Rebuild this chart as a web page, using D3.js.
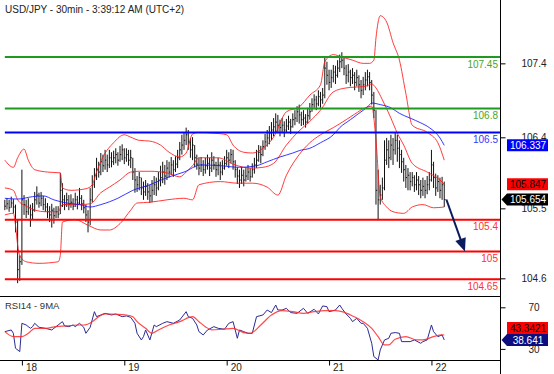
<!DOCTYPE html>
<html><head><meta charset="utf-8">
<script src="https://cdn.jsdelivr.net/npm/d3@7"></script>
<style>body{margin:0;background:#fff}svg{display:block}text{font-family:"Liberation Sans",Arial,sans-serif}</style>
</head><body><svg id="c" width="554" height="374"></svg>
<script>
// ---------- DATA ----------
const title = "USD/JPY - 30min - 3:39:12 AM (UTC+2)";
const firstOpen = 105.58;
const closes = [
105.57,105.60,105.55,105.61,105.56,105.37,104.77,104.87,105.65,105.59,
105.50,105.55,105.46,105.52,105.65,105.71,105.61,105.67,105.59,105.56,
105.50,105.46,105.52,105.45,105.50,105.47,105.77,105.65,105.59,105.65,
105.59,105.62,105.57,105.65,105.61,105.67,105.60,105.55,105.46,105.37,
105.65,105.84,105.96,106.03,106.00,106.13,106.08,106.15,106.09,106.18,
106.13,106.18,106.22,106.15,106.22,106.28,106.18,106.22,106.15,106.18,
106.00,105.90,105.84,105.93,105.80,105.75,105.82,105.75,105.70,105.77,
105.84,105.80,105.90,105.93,106.00,105.95,106.05,106.00,106.09,106.03,
106.10,106.18,106.28,106.34,106.40,106.47,106.38,106.28,106.34,106.18,
106.10,106.05,106.09,106.03,106.08,106.11,106.05,106.15,106.09,106.03,
106.09,106.00,106.05,106.11,106.18,106.15,106.22,106.13,106.03,105.95,
105.90,105.96,105.90,105.95,106.00,105.94,106.03,106.09,106.15,106.25,
106.22,106.32,106.38,106.43,106.49,106.53,106.57,106.63,106.59,106.56,
106.59,106.53,106.58,106.63,106.57,106.66,106.68,106.76,106.72,106.66,
106.68,106.63,106.71,106.76,106.85,106.91,106.86,106.95,106.91,106.97,
107.31,107.22,107.13,107.19,107.26,107.22,107.31,107.39,107.41,107.31,
107.22,107.26,107.19,107.22,107.13,107.19,107.10,107.03,107.10,107.16,
107.20,107.13,106.97,106.78,105.77,105.65,105.71,105.80,106.15,106.28,
106.18,106.34,106.28,106.40,106.30,106.22,106.13,106.03,105.93,105.96,
105.88,105.93,105.84,105.90,105.84,105.77,105.82,105.77,105.84,105.90,
106.09,105.93,105.80,105.88,105.77,105.84,105.654];
const highs = [
105.65,105.67,105.65,105.69,105.66,105.59,105.40,104.95,106.03,105.71,
105.65,105.67,105.59,105.61,105.75,105.82,105.74,105.75,105.70,105.67,
105.61,105.57,105.60,105.55,105.57,105.57,105.99,105.86,105.71,105.74,
105.71,105.72,105.67,105.74,105.70,105.80,105.71,105.65,105.59,105.52,
105.80,105.96,106.05,106.18,106.13,106.24,106.22,106.28,106.22,106.28,
106.25,106.27,106.30,106.25,106.33,106.35,106.30,106.30,106.28,106.28,
106.15,106.05,105.95,106.00,105.93,105.88,105.90,105.86,105.84,105.90,
105.95,105.93,106.00,106.08,106.13,106.09,106.15,106.13,106.19,106.15,
106.20,106.28,106.38,106.47,106.50,106.56,106.53,106.43,106.44,106.34,
106.22,106.18,106.19,106.15,106.18,106.22,106.18,106.25,106.20,106.13,
106.18,106.13,106.15,106.20,106.28,106.25,106.29,106.28,106.15,106.06,
106.03,106.06,106.03,106.05,106.09,106.05,106.11,106.18,106.28,106.34,
106.33,106.40,106.48,106.53,106.58,106.63,106.68,106.74,106.72,106.66,
106.68,106.64,106.67,106.71,106.67,106.74,106.78,106.83,106.85,106.76,
106.78,106.73,106.81,106.87,106.93,106.98,106.96,107.03,107.01,107.06,
107.45,107.39,107.29,107.29,107.35,107.34,107.41,107.48,107.51,107.44,
107.35,107.36,107.29,107.31,107.26,107.29,107.22,107.16,107.20,107.26,
107.29,107.26,107.16,107.01,106.78,106.03,105.84,105.93,106.40,106.43,
106.40,106.47,106.43,106.50,106.47,106.40,106.28,106.18,106.09,106.05,
106.00,106.00,105.96,106.00,105.95,105.90,105.93,105.90,105.95,106.00,
106.28,106.13,105.98,105.96,105.93,105.94,105.88];
const lows = [
105.52,105.53,105.50,105.55,105.48,105.24,104.60,104.63,104.83,105.46,
105.42,105.46,105.31,105.40,105.50,105.59,105.55,105.57,105.52,105.50,
105.42,105.37,105.30,105.35,105.42,105.42,105.47,105.56,105.52,105.56,
105.52,105.55,105.52,105.56,105.53,105.59,105.52,105.48,105.37,105.24,
105.33,105.62,105.80,105.90,105.93,105.96,106.00,106.03,106.00,106.05,
106.06,106.09,106.11,106.08,106.13,106.15,106.10,106.13,106.08,106.05,
105.90,105.74,105.75,105.77,105.71,105.65,105.70,105.65,105.61,105.62,
105.71,105.70,105.77,105.82,105.86,105.84,105.90,105.93,105.96,105.94,
106.00,106.05,106.15,106.22,106.28,106.34,106.28,106.18,106.15,106.06,
106.03,105.96,106.00,105.95,105.98,106.03,105.95,106.00,106.03,105.94,
105.96,105.90,105.96,106.03,106.08,106.05,106.11,106.03,105.93,105.85,
105.80,105.85,105.82,105.88,105.90,105.88,105.93,105.98,106.05,106.13,
106.11,106.20,106.28,106.32,106.35,106.40,106.45,106.50,106.49,106.45,
106.49,106.44,106.50,106.53,106.48,106.56,106.59,106.63,106.61,106.58,
106.59,106.56,106.61,106.66,106.76,106.81,106.78,106.83,106.81,106.86,
106.93,107.10,107.03,107.06,107.13,107.11,107.19,107.26,107.31,107.22,
107.11,107.13,107.08,107.11,107.03,107.08,107.01,106.93,106.97,107.03,
107.08,107.03,106.85,106.68,105.59,105.40,105.59,105.65,105.77,106.09,
106.05,106.15,106.09,106.22,106.13,106.05,105.99,105.88,105.80,105.77,
105.77,105.82,105.75,105.77,105.71,105.67,105.70,105.67,105.72,105.77,
105.88,105.80,105.70,105.75,105.67,105.65,105.56];

// Bollinger bands (20) and 50-period MA, sampled [barIndex, price]
const bbUpper = [[0,106.15],[4,106.06],[6,106.18],[9,106.29],[11,106.15],[14,106.03],[20,106.00],[26,105.99],[27,105.80],[31,105.77],[38,105.79],[41,105.84],[43,106.00],[46,106.19],[51,106.37],[56,106.47],[59,106.44],[63,106.40],[68,106.39],[73,106.34],[77,106.25],[82,106.19],[85,106.24],[88,106.48],[91,106.50],[98,106.49],[104,106.47],[107,106.34],[112,106.25],[116,106.24],[121,106.30],[126,106.44],[132,106.76],[138,106.82],[143,106.97],[148,107.10],[150,107.39],[154,107.48],[158,107.45],[163,107.41],[168,107.37],[171,107.37],[173,107.41],[174,107.69],[175,107.89],[176,107.97],[179,107.89],[182,107.63],[185,107.41],[188,106.99],[191,106.59],[198,106.50],[203,106.37],[206,106.15]];
const bbMiddle = [[0,105.80],[4,105.77],[6,105.65],[10,105.57],[19,105.50],[25,105.50],[27,105.59],[35,105.59],[40,105.60],[45,105.74],[49,105.81],[54,105.90],[59,106.00],[63,106.01],[68,106.01],[76,105.99],[82,105.94],[85,106.00],[88,106.08],[91,106.18],[100,106.18],[107,106.10],[112,106.06],[116,106.05],[121,106.06],[126,106.11],[132,106.34],[138,106.52],[143,106.64],[148,106.78],[154,107.01],[160,107.06],[164,107.07],[169,107.08],[172,107.11],[174,107.06],[177,106.91],[181,106.68],[184,106.49],[187,106.34],[191,106.11],[198,106.00],[204,105.90],[206,105.847]];
const bbLower = [[0,105.46],[4,105.48],[5,105.33],[6,105.08],[7,104.95],[10,104.87],[16,104.85],[25,104.87],[26,104.95],[27,105.37],[33,105.40],[39,105.33],[45,105.27],[49,105.27],[54,105.35],[59,105.52],[62,105.61],[68,105.62],[76,105.65],[84,105.67],[88,105.65],[91,105.84],[101,105.88],[109,105.86],[116,105.86],[123,105.81],[128,105.71],[132,105.96],[138,106.22],[143,106.37],[148,106.47],[154,106.56],[160,106.66],[164,106.73],[169,106.81],[172,106.83],[174,106.40],[176,105.69],[179,105.56],[182,105.50],[187,105.48],[191,105.56],[196,105.59],[201,105.55],[206,105.56]];
const ma50 = [[0,105.67],[6,105.66],[13,105.69],[18,105.70],[23,105.65],[29,105.61],[35,105.59],[40,105.56],[45,105.59],[53,105.67],[60,105.77],[68,105.84],[76,105.93],[84,106.00],[92,106.09],[101,106.08],[110,106.06],[118,106.08],[123,106.13],[129,106.19],[135,106.24],[138,106.27],[143,106.30],[148,106.37],[154,106.47],[157,106.56],[162,106.66],[166,106.74],[170,106.82],[172,106.87],[176,106.85],[181,106.81],[185,106.74],[190,106.68],[195,106.62],[199,106.56],[204,106.43],[206,106.337]];

// RSI(14) and its 9-period MA, sampled [barIndex, value]
const rsi14 = [[0,46.6],[3,48.2],[4,45.0],[5,30.6],[7,27.4],[8,54.6],[10,53.0],[12,49.8],[13,51.4],[14,54.6],[16,50.8],[19,49.8],[22,48.2],[23,49.8],[25,53.0],[27,56.2],[28,52.1],[30,51.4],[32,53.0],[33,51.4],[35,54.6],[37,50.8],[38,45.0],[40,50.8],[42,65.8],[43,61.0],[45,62.6],[47,64.2],[50,62.6],[52,63.6],[55,61.0],[57,61.7],[59,60.4],[61,54.6],[62,45.0],[64,38.6],[65,41.8],[66,48.2],[68,38.6],[70,53.0],[71,51.4],[74,54.6],[76,56.2],[79,54.6],[82,57.8],[85,65.8],[86,61.0],[88,59.4],[90,53.0],[91,46.6],[93,43.4],[95,48.2],[98,51.4],[100,49.8],[103,48.9],[105,54.6],[107,56.2],[109,40.2],[110,48.2],[112,46.6],[114,45.0],[116,45.0],[118,61.0],[121,62.6],[123,67.4],[125,64.9],[127,72.2],[128,67.4],[130,67.4],[132,69.0],[134,64.9],[137,64.2],[140,69.0],[142,64.2],[145,68.1],[147,63.6],[149,71.3],[151,70.6],[152,65.8],[155,67.4],[157,72.2],[158,69.0],[160,63.6],[162,59.4],[163,56.2],[165,59.4],[167,54.6],[168,54.6],[170,49.8],[172,35.4],[173,22.6],[175,19.4],[176,29.0],[178,38.6],[180,40.2],[181,45.0],[183,45.7],[185,45.0],[186,37.0],[190,37.0],[192,38.6],[195,35.4],[196,37.0],[198,38.6],[200,53.0],[201,46.6],[203,41.8],[205,43.4],[206,38.641]];
const rsiMA9 = [[0,46.6],[4,41.8],[8,41.8],[11,45.0],[14,49.8],[19,49.8],[24,51.4],[29,52.1],[34,53.0],[37,53.0],[41,56.2],[44,61.0],[47,63.6],[52,63.3],[57,62.6],[60,61.0],[62,56.2],[66,49.8],[69,45.0],[72,48.2],[77,53.0],[82,56.2],[88,61.0],[91,56.2],[94,51.4],[97,48.2],[102,48.9],[107,49.8],[112,45.7],[115,45.0],[120,53.0],[125,62.6],[130,66.8],[135,65.8],[140,64.2],[145,65.8],[150,66.8],[155,66.8],[158,65.8],[163,61.7],[168,56.2],[172,49.8],[175,41.8],[178,33.8],[180,33.8],[183,39.3],[188,41.8],[193,38.6],[196,38.6],[201,41.8],[205,43.4],[206,43.3421]];

// Key levels
const levelValues = [107.45, 106.8, 106.5, 105.4, 105, 104.65];
const levelLabels = ["107.45", "106.8", "106.5", "105.4", "105", "104.65"];
const levelKinds  = ["resistance", "resistance", "pivot", "support", "support", "support"];

// Price axis ticks (positions as read) and labels
const priceTickValues = [107.37, 106.438, 105.543, 104.661];
const priceTickLabels = ["107.4", "106.4", "105.5", "104.6"];
const rsiTickValues = [70, 30];
const dayTickIndex = [8, 56, 104, 152, 200];
const dayLabels = ["18", "19", "20", "21", "22"];

// Projection arrow [barIndex, price]
const arrowFrom = [207, 105.654];
const arrowTo = [215.7, 105.0];

// Last values shown in boxes
const lastPrice = 105.654, lastMA50 = 106.337, lastBBMid = 105.847;
const lastRSI = 38.641, lastRSIMA = 43.3421;

// ---------- DRAW ----------
const svg = d3.select("#c");
const AX = 500.5, MAIN_BOTTOM = 296.5, RSI_BOTTOM = 360.5;
const levelColor = {resistance: "#1e9a1e", pivot: "#0000ff", support: "#ff0000"};
const levelTextColor = {resistance: "#4aa52a", pivot: "#3535ff", support: "#ff3030"};

const x = d3.scaleLinear().domain([0, 240]).range([4.84, 4.84 + 240 * 2.133]);
const y = d3.scaleLinear().domain([104.65, 107.45]).range([279.2, 57.0]);
const yr = d3.scaleLinear().domain([30, 70]).range([348.9, 307.3]);

svg.append("rect").attr("width", 554).attr("height", 374).attr("fill", "#fff");

const defs = svg.append("defs");
defs.append("clipPath").attr("id", "cm").append("rect").attr("x", 0).attr("y", 0).attr("width", AX).attr("height", MAIN_BOTTOM);
defs.append("clipPath").attr("id", "cr").append("rect").attr("x", 0).attr("y", MAIN_BOTTOM + 0.5).attr("width", AX).attr("height", RSI_BOTTOM - MAIN_BOTTOM - 1);

// title
svg.append("text").attr("x", 5).attr("y", 13).attr("font-size", 10).attr("fill", "#222").text(title);

const gm = svg.append("g").attr("clip-path", "url(#cm)");

// bars
const bars = closes.map((c, i) => ({i, o: i ? closes[i - 1] : firstOpen, h: highs[i], l: lows[i], c}));
gm.append("g").selectAll("line").data(bars).join("line")
  .attr("x1", d => x(d.i)).attr("x2", d => x(d.i))
  .attr("y1", d => y(Math.max(d.h, d.o, d.c))).attr("y2", d => y(Math.min(d.l, d.o, d.c)))
  .attr("stroke", "#111").attr("stroke-width", 1);
gm.append("g").selectAll("line").data(bars).join("line")
  .attr("x1", d => x(d.i)).attr("x2", d => x(d.i) + 1.2)
  .attr("y1", d => y(d.c)).attr("y2", d => y(d.c))
  .attr("stroke", "#111").attr("stroke-width", 1);

// bands
const line = d3.line().x(d => x(d[0])).y(d => y(d[1])).curve(d3.curveMonotoneX);
[bbUpper, bbMiddle, bbLower].forEach(s => {
  gm.append("path").attr("d", line(s)).attr("fill", "none").attr("stroke", "#ff1a1a").attr("stroke-opacity", 0.85).attr("stroke-width", 1);
});
gm.append("path").attr("d", line(ma50)).attr("fill", "none").attr("stroke", "#1515ff").attr("stroke-opacity", 0.85).attr("stroke-width", 1);

// levels
levelValues.forEach((v, k) => {
  const yy = y(v);
  gm.append("line").attr("x1", x(0)).attr("x2", AX).attr("y1", yy).attr("y2", yy)
    .attr("stroke", levelColor[levelKinds[k]]).attr("stroke-width", 2);
  svg.append("text").attr("x", 498).attr("y", yy + 10.5).attr("text-anchor", "end").attr("font-size", 10)
    .attr("fill", levelTextColor[levelKinds[k]]).text(levelLabels[k]);
});

// arrow
{
  const x0 = x(arrowFrom[0]), y0 = y(arrowFrom[1]), x1 = x(arrowTo[0]), y1 = y(arrowTo[1]);
  const dx = x1 - x0, dy = y1 - y0, L = Math.hypot(dx, dy), ux = dx / L, uy = dy / L;
  const hl = 13, hw = 5.5;
  const bx = x1 - ux * hl, by = y1 - uy * hl;
  svg.append("line").attr("x1", x0).attr("y1", y0).attr("x2", bx + ux * 2).attr("y2", by + uy * 2)
    .attr("stroke", "#0c1a5e").attr("stroke-width", 2);
  svg.append("path").attr("d", `M${x1},${y1}L${bx - uy * hw},${by + ux * hw}L${bx + uy * hw},${by - ux * hw}Z`).attr("fill", "#0c1a5e");
}

// frame lines
svg.append("line").attr("x1", 0).attr("x2", AX).attr("y1", MAIN_BOTTOM).attr("y2", MAIN_BOTTOM).attr("stroke", "#000");
svg.append("line").attr("x1", 0).attr("x2", AX).attr("y1", RSI_BOTTOM).attr("y2", RSI_BOTTOM).attr("stroke", "#000");
svg.append("line").attr("x1", AX).attr("x2", AX).attr("y1", 0).attr("y2", 374).attr("stroke", "#000");

// price axis
const pa = svg.append("g").attr("transform", `translate(${AX},0)`)
  .call(d3.axisRight(y).tickValues(priceTickValues).tickFormat((d, i) => priceTickLabels[i]).tickSize(5));
pa.select(".domain").remove();
pa.selectAll("line").attr("stroke", "#000");
pa.selectAll("text").attr("x", 33.5).attr("text-anchor", "middle").attr("font-size", 10).attr("fill", "#222").attr("font-family", null);

// RSI axis
const ra = svg.append("g").attr("transform", `translate(${AX},0)`)
  .call(d3.axisRight(yr).tickValues(rsiTickValues).tickSize(5));
ra.select(".domain").remove();
ra.selectAll("line").attr("stroke", "#000");
ra.selectAll("text").attr("x", 33.5).attr("text-anchor", "middle").attr("font-size", 10).attr("fill", "#222").attr("font-family", null);

// day axis
const da = svg.append("g").attr("transform", `translate(0,${RSI_BOTTOM})`)
  .call(d3.axisBottom(x).tickValues(dayTickIndex).tickFormat((d, i) => dayLabels[i]).tickSize(5));
da.select(".domain").remove();
da.selectAll("line").attr("stroke", "#000");
da.selectAll("text").attr("x", 3.5).attr("y", 10.5).attr("dy", null).attr("text-anchor", "start").attr("font-size", 10).attr("fill", "#222").attr("font-family", null);

// RSI panel
const gr = svg.append("g").attr("clip-path", "url(#cr)");
const rline = d3.line().x(d => x(d[0])).y(d => yr(d[1]));
gr.append("path").attr("d", rline(rsi14)).attr("fill", "none").attr("stroke", "#2b2b95").attr("stroke-width", 1);
gr.append("path").attr("d", rline.curve(d3.curveMonotoneX)(rsiMA9)).attr("fill", "none").attr("stroke", "#ff2a2a").attr("stroke-opacity", 0.85).attr("stroke-width", 1.2);
svg.append("text").attr("x", 5).attr("y", 308.5).attr("font-size", 9.5).attr("fill", "#333").text("RSI14 - 9MA");

// value boxes
function box(v, cy, fill, textFill, pointer, label) {
  const g = svg.append("g");
  const x0 = 507, x1 = 548, h = 12;
  const p = pointer
    ? `M${AX + 1},${cy}L${x0},${cy - h / 2}L${x1},${cy - h / 2}L${x1},${cy + h / 2}L${x0},${cy + h / 2}Z`
    : `M${x0},${cy - h / 2}L${x1},${cy - h / 2}L${x1},${cy + h / 2}L${x0},${cy + h / 2}Z`;
  g.append("path").attr("d", p).attr("fill", fill);
  g.append("text").attr("x", (x0 + x1) / 2 + 0.5).attr("y", cy + 3.6).attr("text-anchor", "middle")
    .attr("font-size", 10).attr("fill", textFill).text(label);
}
box(lastMA50, y(lastMA50), "#0000ff", "#fff", false, String(lastMA50));
box(lastBBMid, y(lastBBMid), "#ff0000", "#000", false, String(lastBBMid));
box(lastPrice, y(lastPrice), "#000", "#fff", true, String(lastPrice));
const rsiY = yr(lastRSI);
let rsiMaY = yr(lastRSIMA);
if (Math.abs(rsiMaY - rsiY) < 12) rsiMaY = rsiY - 12;
box(lastRSIMA, rsiMaY, "#ff0000", "#000", false, String(lastRSIMA));
box(lastRSI, rsiY, "#0d0d80", "#fff", true, String(lastRSI));
</script></body></html>
